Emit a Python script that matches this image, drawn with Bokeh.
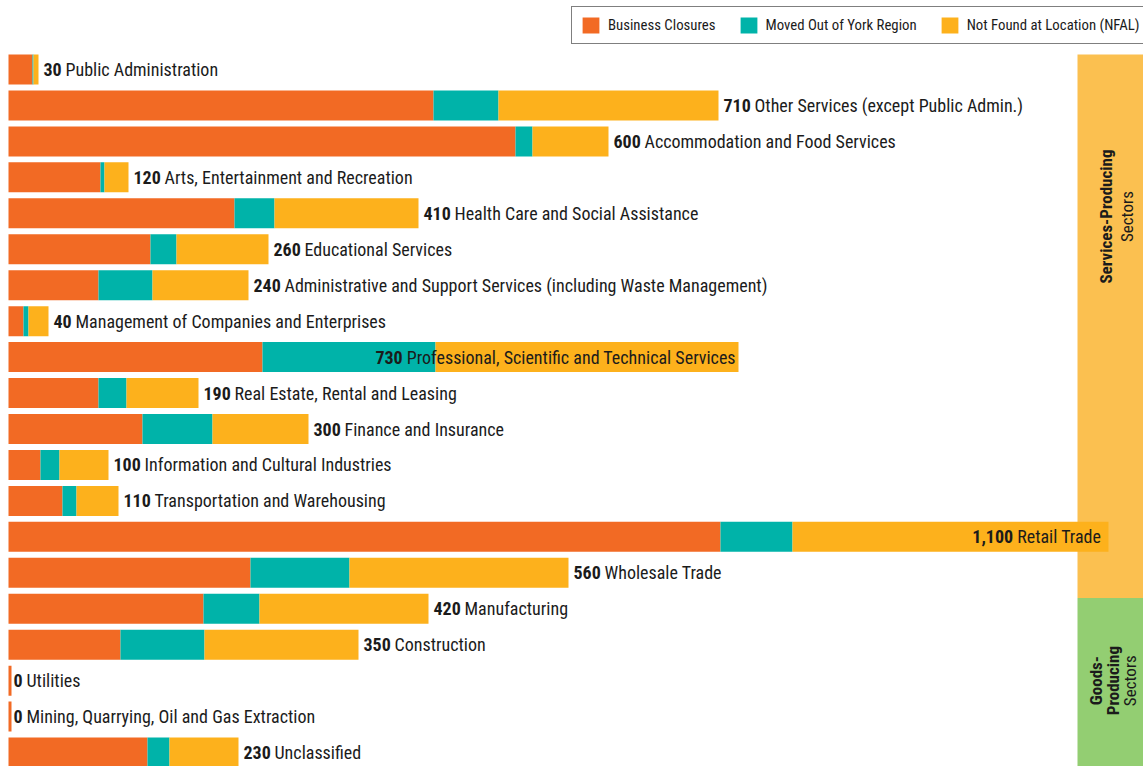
import math
from bokeh.plotting import figure
from bokeh.models import Range1d, ColumnDataSource, Legend, LegendItem
from bokeh.core.properties import value
from bokeh.embed import file_html
from bokeh.resources import INLINE

# ---------------- data ----------------
categories = [
    "Public Administration",
    "Other Services (except Public Admin.)",
    "Accommodation and Food Services",
    "Arts, Entertainment and Recreation",
    "Health Care and Social Assistance",
    "Educational Services",
    "Administrative and Support Services (including Waste Management)",
    "Management of Companies and Enterprises",
    "Professional, Scientific and Technical Services",
    "Real Estate, Rental and Leasing",
    "Finance and Insurance",
    "Information and Cultural Industries",
    "Transportation and Warehousing",
    "Retail Trade",
    "Wholesale Trade",
    "Manufacturing",
    "Construction",
    "Utilities",
    "Mining, Quarrying, Oil and Gas Extraction",
    "Unclassified",
]
totals = [30, 710, 600, 120, 410, 260, 240, 40, 730, 190, 300, 100, 110, 1100, 560, 420, 350, 0, 0, 230]
closures = [24, 425, 507, 92, 226, 142, 90, 15, 254, 90, 134, 32, 54, 712, 242, 195, 112, 0, 0, 139]
moved = [1, 65, 17, 4, 40, 26, 54, 5, 173, 28, 70, 19, 14, 72, 99, 56, 84, 0, 0, 22]
nfal = [5, 220, 76, 24, 144, 92, 96, 20, 303, 72, 96, 49, 42, 316, 219, 169, 154, 0, 0, 69]
sectors = ["Services-Producing"] * 15 + ["Goods-Producing"] * 5
series_names = ["Business Closures", "Moved Out of York Region", "Not Found at Location (NFAL)"]
series_colors = ["#F26A24", "#00B3A9", "#FDB11C"]
panel_colors = {"Services-Producing": "#FBC050", "Goods-Producing": "#93CE72"}

# ---------------- styling ----------------
FONT = "Roboto Condensed"
LABEL_SIZE = 18
TEXT_COLOR = "#1b1b1b"
BAR_H = 0.835
W, H = 1143, 766
PX_LEFT = 8          # white space left of the bars
ROW_TOP = 69         # pixel centre of first row
ROW_STEP = 35.95     # pixels per row

# Arial-like advance widths (/1000), scaled for Roboto Condensed
_W = {
    " ": 250, ",": 250, ".": 260, "(": 330, ")": 330, "-": 300,
    "a": 556, "b": 556, "c": 500, "d": 556, "e": 556, "f": 300, "g": 556, "h": 556,
    "i": 240, "j": 240, "k": 500, "l": 240, "m": 850, "n": 556, "o": 556, "p": 556,
    "q": 556, "r": 340, "s": 500, "t": 300, "u": 556, "v": 500, "w": 722, "x": 500,
    "y": 500, "z": 500,
    "A": 667, "B": 640, "C": 680, "D": 680, "E": 590, "F": 580, "G": 700, "H": 720,
    "I": 280, "J": 520, "K": 640, "L": 540, "M": 860, "N": 720, "O": 700, "P": 640,
    "Q": 700, "R": 640, "S": 610, "T": 610, "U": 660, "V": 650, "W": 880, "X": 640,
    "Y": 620, "Z": 600,
}
K_REG = 0.878


def name_width(s, size):
    return sum(_W.get(ch, 556) for ch in s) / 1000.0 * K_REG * size


def num_width(s, size):
    return sum(0.50 if ch.isdigit() else 0.22 for ch in s) * size


n = len(categories)
idx = list(range(n))
num_labels = [f"{t:,}" for t in totals]

y_top = -ROW_TOP / ROW_STEP
y_bot = (H - ROW_TOP) / ROW_STEP
p = figure(
    width=W, height=H, output_backend="svg", toolbar_location=None,
    x_range=Range1d(-PX_LEFT, W - PX_LEFT), y_range=Range1d(y_bot, y_top),
    x_axis_type=None, y_axis_type=None, min_border=0,
)
p.outline_line_color = None
p.background_fill_color = "white"
p.border_fill_color = "white"

# ---- side panels ----
panel_w = 66
panel_left = W - PX_LEFT - panel_w
panel_right = W - PX_LEFT
svc_rows = [i for i in idx if sectors[i] == "Services-Producing"]
gds_rows = [i for i in idx if sectors[i] == "Goods-Producing"]
boundary = max(svc_rows) + 0.7
p.quad(left=[panel_left, panel_left], right=[panel_right, panel_right],
       top=[min(svc_rows) - BAR_H / 2, boundary],
       bottom=[boundary, y_bot],
       fill_color=[panel_colors["Services-Producing"], panel_colors["Goods-Producing"]],
       line_color=None)

# ---- bars ----
src = ColumnDataSource(dict(y=idx, c=closures, m=moved, nf=nfal))
rs = p.hbar_stack(["c", "m", "nf"], y="y", height=BAR_H, color=series_colors,
                  source=src, line_color=None)
zero_rows = [i for i in idx if totals[i] == 0]
p.hbar(y=zero_rows, left=[totals[i] for i in zero_rows],
       right=[totals[i] + 3 for i in zero_rows], height=BAR_H,
       fill_color=series_colors[0], line_color=None)

# ---- labels ----
limit = panel_left - 8
out_x, out_y, out_num, out_name, out_off = [], [], [], [], []
in_x, in_y, in_num, in_name, in_off_name, in_off_num = [], [], [], [], [], []
for i in idx:
    numw = num_width(num_labels[i], LABEL_SIZE)
    namew = name_width(categories[i], LABEL_SIZE)
    if totals[i] + 5 + numw + 4 + namew > limit:
        in_x.append(totals[i]); in_y.append(i)
        in_num.append(num_labels[i]); in_name.append(categories[i])
        in_off_name.append(-6 - namew)
        in_off_num.append(-6 - namew - 4)
    else:
        out_x.append(totals[i]); out_y.append(i)
        out_num.append(num_labels[i]); out_name.append(categories[i])
        out_off.append(5 + numw + 4)

common = dict(text_baseline="middle", text_font=value(FONT),
              text_font_size=f"{LABEL_SIZE}px", text_color=TEXT_COLOR)
osrc = ColumnDataSource(dict(x=out_x, y=out_y, num=out_num, name=out_name, off=out_off))
p.text(x="x", y="y", text="num", source=osrc, x_offset=5, text_align="left",
       text_font_style="bold", **common)
p.text(x="x", y="y", text="name", source=osrc, x_offset="off", text_align="left", **common)

isrc = ColumnDataSource(dict(x=in_x, y=in_y, num=in_num, name=in_name,
                             offn=in_off_name, offm=in_off_num))
p.text(x="x", y="y", text="num", source=isrc, x_offset="offm", text_align="right",
       text_font_style="bold", **common)
p.text(x="x", y="y", text="name", source=isrc, x_offset="offn", text_align="left", **common)

# ---- panel texts ----
ptxt = dict(angle=math.pi / 2, text_align="center", text_baseline="middle",
            text_font=value(FONT), text_color=TEXT_COLOR, text_font_size="17px")
svc_y = 4.09
p.text(x=[panel_left + 28], y=[svc_y], text=["Services-Producing"], text_font_style="bold", **ptxt)
p.text(x=[panel_left + 49], y=[svc_y], text=["Sectors"], **ptxt)
gds_y = sum(gds_rows) / len(gds_rows)
p.text(x=[panel_left + 18, panel_left + 35], y=[gds_y, gds_y], text=["Goods-", "Producing"],
       text_font_style="bold", **ptxt)
p.text(x=[panel_left + 52], y=[gds_y], text=["Sectors"], **ptxt)

# ---- legend ----
legend = Legend(
    items=[LegendItem(label=series_names[k], renderers=[rs[k]]) for k in range(3)],
    orientation="horizontal", location=(571, H - 44), margin=0, padding=8,
    spacing=22, label_standoff=7, glyph_width=21, glyph_height=20,
    label_text_font=FONT, label_text_font_size="14.8px", label_text_color=TEXT_COLOR,
    border_line_color="black", border_line_width=1.5, background_fill_alpha=1.0,
)
p.add_layout(legend)

open("out.html", "w").write(file_html(p, INLINE))
